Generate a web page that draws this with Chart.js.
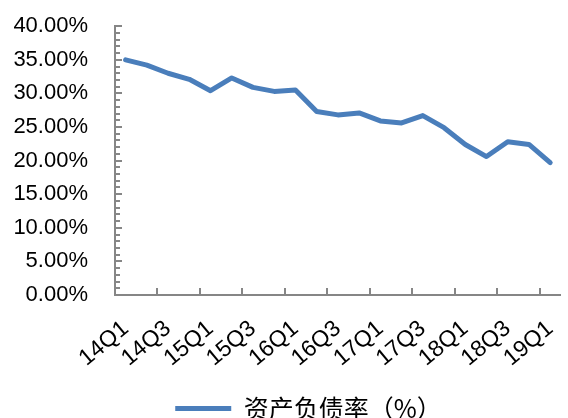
<!DOCTYPE html>
<html>
<head>
<meta charset="utf-8">
<script src="https://cdn.jsdelivr.net/npm/chart.js@4"></script>
<style>
  html, body { margin: 0; padding: 0; background: #fff; overflow: hidden; }
  #wrap { width: 580px; height: 424px; margin-top: -6px; position: relative; }
</style>
</head>
<body>
<div id="wrap"><canvas id="chart"></canvas></div>
<script>
// quarters 14Q1 .. 19Q1
var quarters = ['14Q1','14Q2','14Q3','14Q4','15Q1','15Q2','15Q3','15Q4','16Q1','16Q2','16Q3','16Q4',
                '17Q1','17Q2','17Q3','17Q4','18Q1','18Q2','18Q3','18Q4','19Q1'];
// asset-liability ratio, %
var debtRatio = [35.0, 34.2, 33.0, 32.1, 30.4, 32.3, 30.9, 30.3, 30.5, 27.3, 26.8,
                 27.1, 25.9, 25.6, 26.7, 24.9, 22.4, 20.6, 22.8, 22.4, 19.7];
var seriesName = '资产负债率（%）';
var yMax = 40;

var axisColor = '#868686';
var lineColor = '#4a7ebb';

// inside tick marks like the excel original
var insideTicks = {
  id: 'insideTicks',
  afterLayout: function(chart) {
    // legend sits a bit right of centre in the original
    chart.legend.left += 20;
    chart.legend.right += 20;
  },
  afterDraw: function(chart) {
    var ctx = chart.ctx;
    var xs = chart.scales.x, ys = chart.scales.y;
    var area = chart.chartArea;
    ctx.save();
    ctx.strokeStyle = axisColor;
    ctx.lineWidth = 2;
    ctx.beginPath();
    for (var v = 0; v <= yMax; v++) {
      var y = Math.round(ys.getPixelForValue(v));
      var len = (v % 5 === 0) ? 7 : 5;
      ctx.moveTo(area.left, y);
      ctx.lineTo(area.left + len, y);
    }
    var half = (xs.getPixelForValue(1) - xs.getPixelForValue(0)) / 2;
    for (var i = 0; i <= quarters.length; i += 2) {
      var x = Math.round(xs.getPixelForValue(i) - half);
      ctx.moveTo(x, area.bottom);
      ctx.lineTo(x, area.bottom - 7);
    }
    ctx.stroke();
    ctx.restore();
  }
};

var ctx = document.getElementById('chart').getContext('2d');
var chart = new Chart(ctx, {
  type: 'line',
  data: {
    labels: quarters,
    datasets: [{
      label: seriesName,
      data: debtRatio,
      borderColor: lineColor,
      backgroundColor: lineColor,
      borderWidth: 5,
      borderCapStyle: 'round',
      borderJoinStyle: 'round',
      pointRadius: 0,
      pointStyle: 'line',
      tension: 0
    }]
  },
  options: {
    responsive: true,
    maintainAspectRatio: false,
    animation: false,
    layout: { padding: { top: 0, right: 3, left: 0, bottom: -13 } },
    plugins: {
      tooltip: { enabled: false },
      legend: {
        position: 'bottom',
        labels: {
          usePointStyle: true,
          pointStyleWidth: 56,
          boxHeight: 5,
          padding: 4,
          color: '#000',
          font: { family: '"Noto Sans CJK SC", sans-serif', size: 25 }
        }
      }
    },
    scales: {
      x: {
        offset: true,
        afterFit: function(scale) { scale.height = 97; },
        border: { display: true, color: axisColor, width: 2 },
        grid: { display: false },
        ticks: {
          autoSkip: false,
          minRotation: 40,
          maxRotation: 40,
          padding: 12,
          color: '#000',
          font: { family: '"Liberation Sans", Arial, sans-serif', size: 23 },
          callback: function(val, idx) { return idx % 2 === 0 ? quarters[idx] : ''; }
        }
      },
      y: {
        min: 0,
        max: yMax,
        afterFit: function(scale) { scale.width = 115; },
        border: { display: true, color: axisColor, width: 2 },
        grid: { display: false },
        ticks: {
          stepSize: 1,
          autoSkip: false,
          padding: 19,
          color: '#000',
          font: { family: '"Liberation Sans", Arial, sans-serif', size: 22 },
          callback: function(v) { return v % 5 === 0 ? v.toFixed(2) + '%' : ''; }
        }
      }
    }
  },
  plugins: [insideTicks]
});
</script>
</body>
</html>
